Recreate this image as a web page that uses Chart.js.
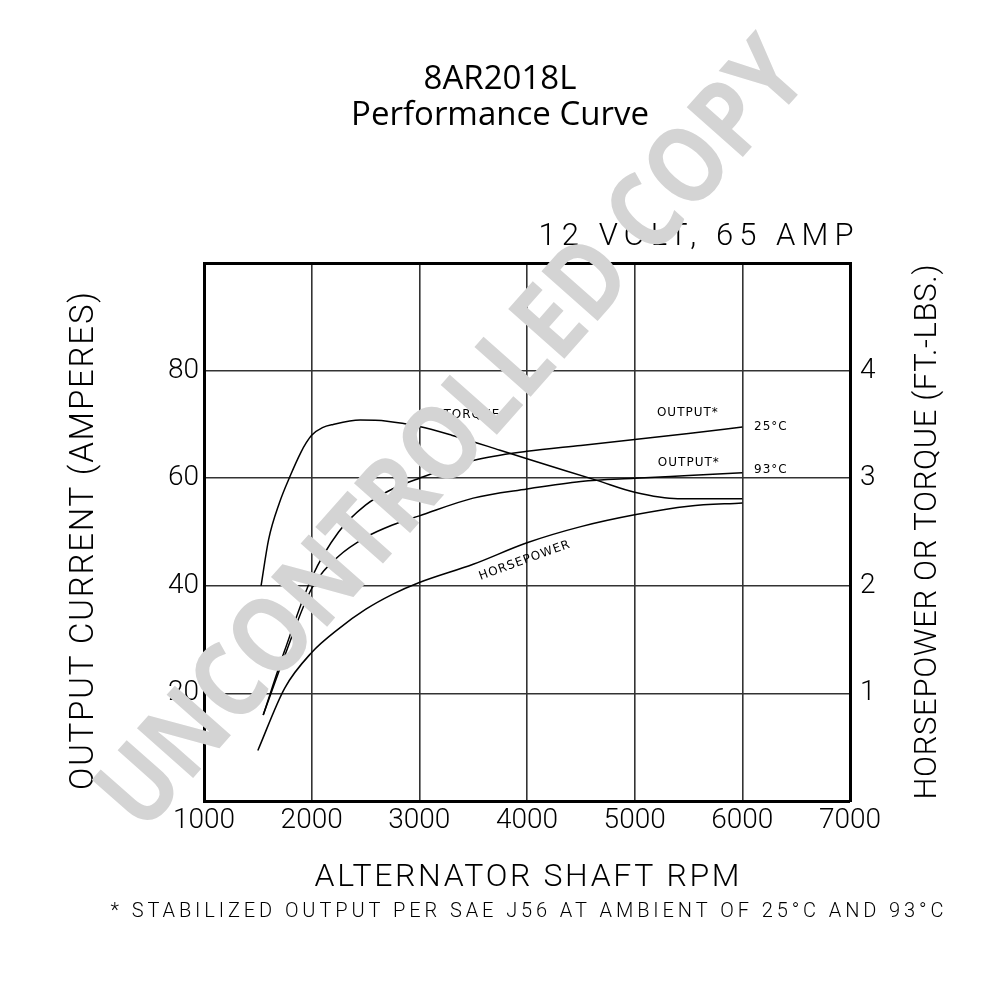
<!DOCTYPE html>
<html>
<head>
<meta charset="utf-8">
<script src="https://cdn.jsdelivr.net/npm/chart.js@4/dist/chart.umd.min.js"></script>
<style>
  html, body { margin: 0; padding: 0; background: #fff; }
  #wrap { width: 1000px; height: 1000px; position: relative; }
</style>
</head>
<body>
<div id="wrap"><canvas id="perfChart" width="1000" height="1000"></canvas></div>
<script>
// x axis ticks (rpm) and left/right tick values
const rpmTicks = [1000, 2000, 3000, 4000, 5000, 6000, 7000];
const ampTicks = [20, 40, 60, 80];
const hpTicks = [1, 2, 3, 4];

// Output at 25°C (amperes)
const out25Rpm = [1550, 1750, 2000, 2250, 2500, 2750, 3000, 3500, 4000, 4500, 5000, 5500, 6000];
const out25Amp = [16, 28, 41.5, 50, 55, 58, 60, 63.3, 65, 66.1, 67.2, 68.3, 69.5];

// Output at 93°C (amperes)
const out93Rpm = [1550, 1750, 2000, 2250, 2500, 2750, 3000, 3500, 4000, 4500, 5000, 5500, 6000];
const out93Amp = [16, 27, 39.5, 45.5, 49, 51.3, 53, 56.3, 58, 59.4, 60, 60.5, 61];

// Torque (ft.-lbs.)
const torqueRpm = [1530, 1600, 1700, 1800, 1900, 1950, 2000, 2100, 2200, 2450, 2700, 3000, 3300, 3750, 4000, 4650, 5000, 5400, 6000];
const torqueFtLbs = [2.0, 2.43, 2.77, 3.02, 3.24, 3.33, 3.4, 3.47, 3.5, 3.54, 3.53, 3.48, 3.4, 3.26, 3.18, 2.98, 2.87, 2.81, 2.81];

// Horsepower
const hpRpm = [1500, 1750, 2000, 2250, 2500, 2750, 3000, 3500, 4000, 4500, 5000, 5500, 6000];
const hpValues = [0.47, 1.05, 1.38, 1.6, 1.78, 1.92, 2.03, 2.2, 2.4, 2.55, 2.66, 2.74, 2.77];

// curve labels: text, rpm, amperes (left scale), rotation in degrees
const curveLabels = [
    ['TORQUE', 3488, 71.8, 0],
    ['OUTPUT*', 5494, 72.2, 0],
    ['25°C', 6265, 69.6, 0],
    ['OUTPUT*', 5503, 62.9, 0],
    ['93°C', 6265, 61.6, 0],
    ['HORSEPOWER', 3980, 44.7, -20]
];

function pts(xs, ys) {
    return xs.map((x, i) => ({ x: x, y: ys[i] }));
}

const thinFont = 'Roboto';

// draw text stretched with letter spacing to a given width
function spacedText(ctx, text, cx, cy, size, width, weight) {
    ctx.save();
    ctx.font = (weight || 300) + ' ' + size + 'px ' + thinFont;
    ctx.letterSpacing = '0px';
    const w = ctx.measureText(text).width;
    const sp = (width - w) / (text.length - 1);
    ctx.letterSpacing = sp + 'px';
    ctx.textAlign = 'left';
    ctx.textBaseline = 'middle';
    ctx.fillText(text, cx - width / 2, cy);
    ctx.restore();
}

const textPlugin = {
    id: 'textPlugin',
    afterDraw(chart) {
        const ctx = chart.ctx;
        const xs = chart.scales.x, ys = chart.scales.y;
        ctx.save();
        ctx.fillStyle = '#000';

        // title
        ctx.textAlign = 'center';
        ctx.textBaseline = 'alphabetic';
        ctx.font = '33px "Open Sans"';
        ctx.fillText('8AR2018L', 500, 89);
        ctx.fillText('Performance Curve', 500, 125);

        spacedText(ctx, '12 VOLT, 65 AMP', 696, 237, 31, 315);
        spacedText(ctx, 'ALTERNATOR SHAFT RPM', 527, 878, 32, 425);
        spacedText(ctx, '* STABILIZED OUTPUT PER SAE J56 AT AMBIENT OF 25°C AND 93°C', 527, 912, 20, 833);

        ctx.save();
        ctx.translate(85, 541);
        ctx.rotate(-Math.PI / 2);
        spacedText(ctx, 'OUTPUT CURRENT (AMPERES)', 0, 0, 33, 498);
        ctx.restore();

        ctx.save();
        ctx.translate(928, 532);
        ctx.rotate(-Math.PI / 2);
        spacedText(ctx, 'HORSEPOWER OR TORQUE (FT.-LBS.)', 0, 0, 31, 535);
        ctx.restore();

        // labels on the curves
        ctx.font = '12px "DejaVu Sans"';
        ctx.letterSpacing = '1px';
        ctx.textAlign = 'center';
        ctx.textBaseline = 'middle';
        curveLabels.forEach(l => {
            ctx.save();
            ctx.translate(xs.getPixelForValue(l[1]), ys.getPixelForValue(l[2]));
            ctx.rotate(l[3] * Math.PI / 180);
            ctx.fillText(l[0], 0, 0);
            ctx.restore();
        });
        ctx.letterSpacing = '0px';

        // watermark
        ctx.save();
        ctx.translate(455, 437);
        ctx.rotate(-48.5 * Math.PI / 180);
        ctx.font = 'bold 100px "Open Sans"';
        const ww = ctx.measureText('UNCONTROLLED COPY').width;
        ctx.scale(1010 / ww, 1.05);
        ctx.fillStyle = '#d4d4d4';
        ctx.textAlign = 'center';
        ctx.textBaseline = 'middle';
        ctx.fillText('UNCONTROLLED COPY', 0, 0);
        ctx.restore();

        ctx.restore();
    }
};

const lineStyle = {
    borderColor: '#000',
    borderWidth: 1.5,
    pointRadius: 0,
    fill: false,
    cubicInterpolationMode: 'monotone'
};

const ctx = document.getElementById('perfChart').getContext('2d');
const perfChart = new Chart(ctx, {
    type: 'line',
    data: {
        datasets: [
            Object.assign({ label: 'Output 25°C', data: pts(out25Rpm, out25Amp), yAxisID: 'y' }, lineStyle),
            Object.assign({ label: 'Output 93°C', data: pts(out93Rpm, out93Amp), yAxisID: 'y' }, lineStyle),
            Object.assign({ label: 'Torque', data: pts(torqueRpm, torqueFtLbs), yAxisID: 'y1' }, lineStyle),
            Object.assign({ label: 'Horsepower', data: pts(hpRpm, hpValues), yAxisID: 'y1' }, lineStyle)
        ]
    },
    options: {
        responsive: false,
        animation: false,
        layout: { padding: { top: 263, left: 0, right: 0, bottom: 0 } },
        plugins: {
            legend: { display: false },
            tooltip: { enabled: false }
        },
        scales: {
            x: {
                type: 'linear',
                min: 1000,
                max: 7000,
                afterFit: function(scale) { scale.height = 199; },
                afterBuildTicks: function(scale) { scale.ticks = rpmTicks.map(v => ({ value: v })); },
                ticks: {
                    color: '#000',
                    padding: 3,
                    maxRotation: 0,
                    font: { family: thinFont, size: 28, weight: 300 },
                    callback: v => String(v)
                },
                grid: {
                    color: '#333',
                    lineWidth: c => (c.tick && (c.tick.value === 1000 || c.tick.value === 7000)) ? 0 : 1.6,
                    drawTicks: false
                },
                border: { color: '#000', width: 3 }
            },
            y: {
                position: 'left',
                min: 0,
                max: 100,
                afterFit: function(scale) { scale.width = 204; },
                afterBuildTicks: function(scale) { scale.ticks = [0].concat(ampTicks, [100]).map(v => ({ value: v })); },
                ticks: {
                    color: '#000',
                    padding: 5,
                    font: { family: thinFont, size: 28, weight: 300 },
                    callback: v => ampTicks.includes(v) ? String(v) : ''
                },
                grid: {
                    color: c => (c.tick && c.tick.value === 100) ? '#000' : '#333',
                    lineWidth: c => (c.tick && c.tick.value === 100) ? 3 : (c.tick && c.tick.value === 0 ? 0 : 1.6),
                    drawTicks: false
                },
                border: { color: '#000', width: 3 }
            },
            y1: {
                position: 'right',
                min: 0,
                max: 5,
                afterFit: function(scale) { scale.width = 150; },
                afterBuildTicks: function(scale) { scale.ticks = hpTicks.map(v => ({ value: v })); },
                ticks: {
                    color: '#000',
                    padding: 10,
                    font: { family: thinFont, size: 28, weight: 300 },
                    callback: v => String(v)
                },
                grid: { drawOnChartArea: false, drawTicks: false },
                border: { color: '#000', width: 3 }
            }
        }
    },
    plugins: [textPlugin]
});
</script>
</body>
</html>
